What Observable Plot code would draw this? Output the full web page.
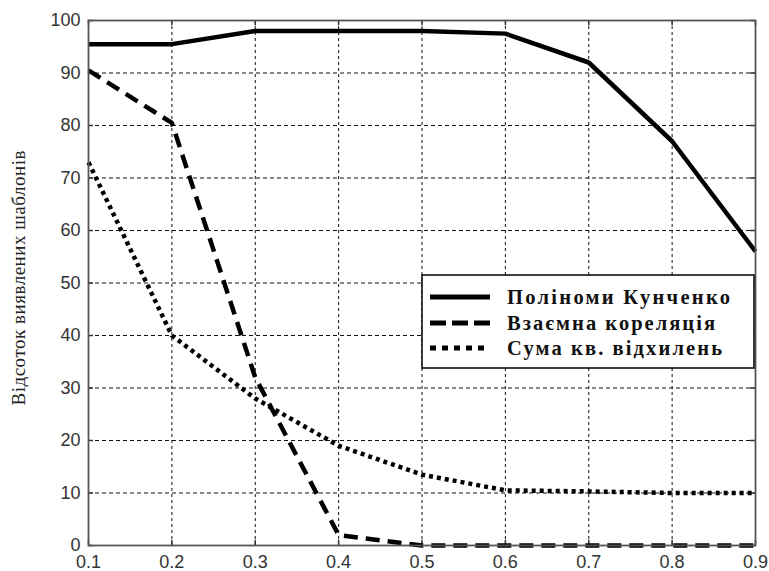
<!DOCTYPE html>
<html><head><meta charset="utf-8">
<script src="https://cdn.jsdelivr.net/npm/d3@7"></script>
<script src="https://cdn.jsdelivr.net/npm/@observablehq/plot@0.6"></script>
<style>body{margin:0;background:#fff}</style>
</head><body><div id="chart"></div>
<script>
const xs = [0.1, 0.2, 0.3, 0.4, 0.5, 0.6, 0.7, 0.8, 0.9];
const kunchenko = [95.5, 95.5, 98, 98, 98, 97.5, 92, 77, 56];
const correlation = [90.5, 80.5, 32, 2, 0, 0, 0, 0, 0];
const sqdev = [73, 40, 28, 19, 13.5, 10.5, 10.3, 10, 10];
const seriesNames = ["Поліноми Кунченко", "Взаємна кореляція", "Сума кв. відхилень"];
const xTicks = [0.1, 0.2, 0.3, 0.4, 0.5, 0.6, 0.7, 0.8, 0.9];
const yTicks = [0, 10, 20, 30, 40, 50, 60, 70, 80, 90, 100];
const yLabel = "Відсоток виявлених шаблонів";

const dashes = [null, "14,8", "4,4"];
const seriesVals = [kunchenko, correlation, sqdev];
const rows = [];
seriesVals.forEach((vals, i) => xs.forEach((x, j) => rows.push({x, y: vals[j], s: seriesNames[i]})));

const tickFont = {fontFamily: "'Liberation Sans', Arial, sans-serif", fontSize: 18, fill: "#333"};
const plot = Plot.plot({
  width: 769, height: 571,
  marginLeft: 88, marginRight: 14, marginTop: 20, marginBottom: 26,
  style: {background: "#fff", fontFamily: "'Liberation Sans', Arial, sans-serif"},
  x: {domain: [0.1, 0.9]},
  y: {domain: [0, 100]},
  marks: [
    Plot.gridX(xTicks, {stroke: "#111", strokeOpacity: 1, strokeDasharray: "3,3", strokeWidth: 1}),
    Plot.gridY(yTicks, {stroke: "#111", strokeOpacity: 1, strokeDasharray: "4,3", strokeWidth: 1}),
    Plot.ruleX(xTicks, {x: d => d, y1: 0, y2: 1, stroke: "#333", strokeWidth: 1.5}),
    Plot.ruleX(xTicks, {x: d => d, y1: 99, y2: 100, stroke: "#333", strokeWidth: 1.5}),
    Plot.ruleY(yTicks, {y: d => d, x1: 0.1, x2: 0.106, stroke: "#333", strokeWidth: 1.5}),
    Plot.ruleY(yTicks, {y: d => d, x1: 0.894, x2: 0.9, stroke: "#333", strokeWidth: 1.5}),
    Plot.axisX(xTicks, {anchor: "bottom", tickSize: 0, tickPadding: 10, tickFormat: d => d.toFixed(1), label: null, ...tickFont}),
    Plot.axisY(yTicks, {anchor: "left", tickSize: 0, tickPadding: 8, label: null, ...tickFont}),
    ...seriesNames.map((name, i) => Plot.line(rows.filter(r => r.s === name), {
      x: "x", y: "y", stroke: "#000", strokeWidth: 4.5, strokeDasharray: dashes[i], strokeLinejoin: "miter", strokeLinecap: "butt"
    })),
    Plot.frame({stroke: "#555", strokeWidth: 1.8})
  ]
});
document.getElementById("chart").appendChild(plot);

const svg = d3.select(plot);
// y-axis title
svg.append("text")
  .attr("transform", "translate(25,278) rotate(-90)")
  .attr("text-anchor", "middle")
  .attr("font-family", "'Liberation Serif', 'Times New Roman', serif")
  .attr("font-size", 19)
  .attr("fill", "#222")
  .attr("textLength", 255).attr("lengthAdjust", "spacing")
  .text(yLabel);

// legend
const lg = svg.append("g");
lg.append("rect").attr("x", 422).attr("y", 275).attr("width", 332).attr("height", 93)
  .attr("fill", "#fff").attr("stroke", "#000").attr("stroke-width", 1.5);
const rowY = [297, 323, 348];
const textW = [223, 208, 215];
const legendDash = [null, "16,6", "6,6"];
seriesNames.forEach((name, i) => {
  lg.append("line").attr("x1", 430).attr("x2", 490).attr("y1", rowY[i]).attr("y2", rowY[i])
    .attr("stroke", "#000").attr("stroke-width", 5).attr("stroke-dasharray", legendDash[i]);
  lg.append("text").attr("x", 507).attr("y", rowY[i] + 6.5)
    .attr("text-anchor", "start")
    .attr("font-family", "'Liberation Serif', 'Times New Roman', serif")
    .attr("font-size", 20.5).attr("font-weight", "bold").attr("fill", "#111")
    .attr("textLength", textW[i]).attr("lengthAdjust", "spacing")
    .text(name);
});
</script></body></html>
